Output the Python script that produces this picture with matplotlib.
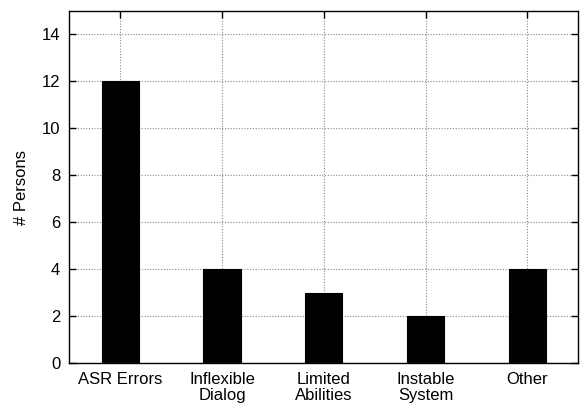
import matplotlib
matplotlib.use("Agg")
import matplotlib.pyplot as plt

# Datos
categorias = ["ASR Errors", "Inflexible\nDialog", "Limited\nAbilities", "Instable\nSystem", "Other"]
personas = [12, 4, 3, 2, 4]
yticks = [0, 2, 4, 6, 8, 10, 12, 14]

plt.rcParams["font.family"] = ["Liberation Sans", "DejaVu Sans"]

fig = plt.figure(figsize=(5.8, 4.03), dpi=100)
ax = fig.add_axes([0.1195, 0.0985, 0.8775, 0.8742])

x = list(range(len(categorias)))
ax.bar(x, personas, width=0.365, color="black", edgecolor="black", linewidth=0.8, zorder=3)

ax.set_xlim(-0.5, 4.5)
ax.set_ylim(0, 15)
ax.set_xticks(x)
ax.set_xticklabels(categorias, fontsize=12, linespacing=1.1)
ax.set_yticks(yticks)
ax.set_yticklabels([str(v) for v in yticks], fontsize=12)
ax.set_ylabel("# Persons", fontsize=12, labelpad=9)

ax.tick_params(direction="in", length=5, width=1, top=True, right=True)
ax.tick_params(axis="y", pad=6.5)
ax.tick_params(axis="x", pad=6)
ax.grid(True, color="#888888", linestyle=(0, (1, 1.5)), linewidth=0.8, zorder=0)
for s in ax.spines.values():
    s.set_linewidth(1)
    s.set_color("black")

fig.savefig("out.png", dpi=100)
